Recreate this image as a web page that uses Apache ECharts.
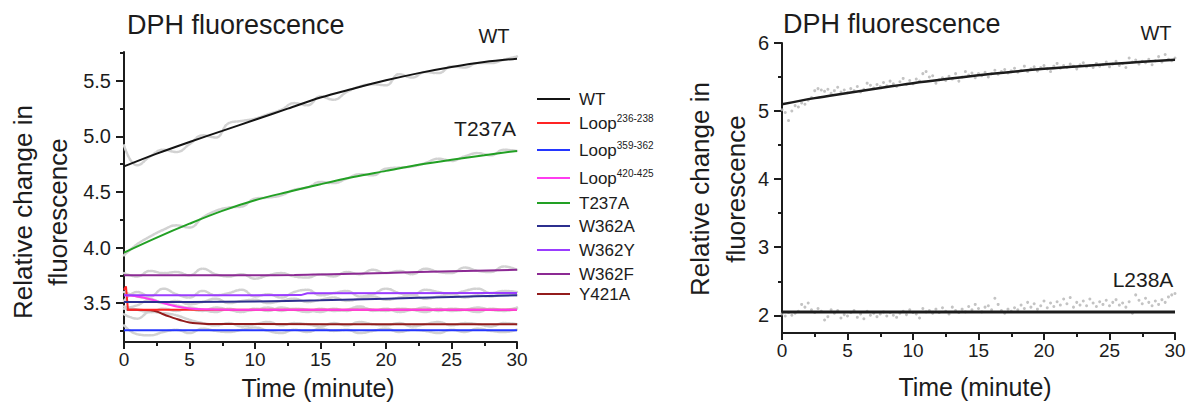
<!DOCTYPE html>
<html>
<head>
<meta charset="utf-8">
<script src="https://cdn.jsdelivr.net/npm/echarts@6/dist/echarts.min.js"></script>
<style>
  html, body { margin: 0; padding: 0; background: #ffffff; }
  #chart { width: 1191px; height: 409px; }
</style>
</head>
<body>
<div id="chart"></div>
<script>
// ---------- Left panel: fitted curves (minutes / relative change) ----------
const fitT = [0, 2.5, 5, 7.5, 10, 12.5, 15, 17.5, 20, 22.5, 25, 27.5, 30];
const wtFit = [4.73, 4.845, 4.95, 5.05, 5.15, 5.25, 5.35, 5.43, 5.505, 5.57, 5.625, 5.67, 5.70];
const t237aFit = [3.955, 4.09, 4.215, 4.33, 4.425, 4.50, 4.57, 4.635, 4.69, 4.745, 4.79, 4.83, 4.87];

const w362fT = [0, 5, 10, 13, 15, 20, 25, 30];
const w362fFit = [3.75, 3.75, 3.751, 3.753, 3.758, 3.772, 3.787, 3.80];

const w362yT = [0, 13.5, 14, 30];
const w362yFit = [3.57, 3.572, 3.588, 3.59];

const w362aT = [0, 5, 10, 15, 20, 25, 30];
const w362aFit = [3.51, 3.51, 3.515, 3.525, 3.54, 3.556, 3.57];

const loop420T = [0, 1, 2, 3, 4, 5, 6, 8, 30];
const loop420Fit = [3.57, 3.56, 3.535, 3.50, 3.47, 3.452, 3.444, 3.44, 3.44];

const loop236T = [0, 0.15, 0.3, 30];
const loop236Fit = [3.62, 3.65, 3.44, 3.44];

const y421aT = [0.2, 1, 2, 2.5, 3, 3.5, 4, 4.5, 5, 5.5, 6.5, 30];
const y421aFit = [3.44, 3.44, 3.435, 3.425, 3.40, 3.378, 3.358, 3.34, 3.326, 3.318, 3.312, 3.31];

const loop359T = [0, 30];
const loop359Fit = [3.255, 3.255];

// ---------- Left panel: measured traces, one reading per minute ----------
const traceT = [0,1,2,3,4,5,6,7,8,9,10,11,12,13,14,15,16,17,18,19,20,21,22,23,24,25,26,27,28,29,30];
const wtTrace = [4.92,4.74,4.82,4.88,4.86,4.93,5.01,4.99,5.12,5.14,5.16,5.20,5.24,5.30,5.28,5.36,5.33,5.40,5.45,5.47,5.46,5.56,5.53,5.58,5.57,5.63,5.62,5.66,5.66,5.69,5.72];
const t237aTrace = [3.93,4.03,4.10,4.16,4.20,4.18,4.27,4.33,4.36,4.37,4.44,4.45,4.47,4.52,4.54,4.59,4.58,4.62,4.66,4.65,4.71,4.72,4.73,4.76,4.80,4.78,4.82,4.85,4.83,4.88,4.87];
const w362fTrace = [3.77,3.74,3.79,3.77,3.78,3.75,3.81,3.76,3.74,3.76,3.72,3.75,3.77,3.74,3.73,3.76,3.74,3.78,3.76,3.80,3.77,3.79,3.76,3.81,3.78,3.77,3.82,3.79,3.78,3.83,3.80];
const w362yTrace = [3.52,3.60,3.56,3.63,3.58,3.55,3.61,3.57,3.59,3.62,3.56,3.58,3.55,3.60,3.62,3.57,3.59,3.61,3.56,3.58,3.63,3.59,3.57,3.62,3.60,3.58,3.61,3.63,3.59,3.61,3.60];
const w362aTrace = [3.45,3.48,3.53,3.50,3.52,3.49,3.51,3.54,3.50,3.52,3.53,3.50,3.52,3.54,3.51,3.53,3.55,3.52,3.54,3.56,3.53,3.55,3.57,3.54,3.56,3.58,3.55,3.57,3.56,3.58,3.57];
const loop420Trace = [3.60,3.56,3.54,3.50,3.48,3.45,3.43,3.46,3.44,3.42,3.45,3.43,3.46,3.44,3.42,3.45,3.43,3.44,3.47,3.43,3.45,3.42,3.44,3.46,3.43,3.45,3.44,3.42,3.45,3.44,3.46];
const loop236Trace = [3.47,3.44,3.42,3.45,3.43,3.46,3.44,3.42,3.45,3.43,3.44,3.46,3.43,3.45,3.44,3.42,3.45,3.43,3.46,3.44,3.43,3.45,3.44,3.42,3.45,3.43,3.44,3.46,3.44,3.43,3.45];
const y421aTrace = [3.40,3.36,3.42,3.41,3.39,3.35,3.32,3.30,3.32,3.29,3.31,3.33,3.30,3.32,3.31,3.29,3.32,3.30,3.33,3.31,3.30,3.32,3.29,3.31,3.33,3.30,3.32,3.31,3.29,3.32,3.31];
const loop359Trace = [3.30,3.22,3.21,3.24,3.26,3.23,3.27,3.25,3.24,3.26,3.28,3.25,3.23,3.26,3.24,3.27,3.25,3.26,3.23,3.25,3.27,3.24,3.26,3.25,3.23,3.26,3.24,3.27,3.25,3.24,3.26];

// ---------- Right panel ----------
const wtRightFit = [5.10, 5.19, 5.265, 5.34, 5.41, 5.47, 5.525, 5.575, 5.62, 5.655, 5.69, 5.725, 5.755];
const l238aT = [0, 30];
const l238aFit = [2.05, 2.05];

// readings every 0.25 min, 0 .. 30
const dotStep = 0.25;
const wtDots = [
  5.02,4.98,4.86,5.00,5.08, 5.06,5.12,5.10,5.16,5.20, 5.30,5.33,5.31,5.29,5.32, 5.26,5.30,5.35,5.28,5.31,
  5.27,5.33,5.30,5.36,5.28, 5.32,5.41,5.38,5.34,5.39, 5.36,5.42,5.37,5.44,5.40, 5.36,5.43,5.48,5.39,5.45,
  5.40,5.47,5.44,5.55,5.58, 5.50,5.52,5.41,5.46,5.49, 5.45,5.51,5.47,5.55,5.44, 5.50,5.58,5.53,5.56,5.49,
  5.55,5.52,5.57,5.50,5.55, 5.60,5.54,5.58,5.61,5.56, 5.59,5.63,5.57,5.60,5.66, 5.58,5.62,5.65,5.59,5.64,
  5.67,5.62,5.58,5.66,5.70, 5.63,5.67,5.64,5.69,5.66, 5.62,5.68,5.71,5.65,5.67, 5.64,5.70,5.66,5.68,5.72,
  5.65,5.69,5.73,5.67,5.70, 5.64,5.78,5.72,5.75,5.69, 5.73,5.71,5.76,5.68,5.74, 5.80,5.72,5.83,5.76,5.74,
  5.78
];
const l238aDots = [
  2.02,1.99,2.04,2.00,2.03, 2.06,2.16,2.12,2.18,2.08, 2.04,2.10,2.06,1.93,1.98, 2.08,2.03,2.07,1.96,2.01,
  1.99,2.04,2.07,1.97,2.02, 1.95,2.06,2.00,2.03,1.98, 2.02,2.05,1.99,2.04,2.00, 1.97,2.03,2.06,2.01,2.08,
  2.04,2.02,1.96,2.10,2.05, 2.07,2.03,2.09,2.04,2.11, 2.06,2.02,2.12,2.07,2.04, 2.09,2.05,2.13,2.08,2.16,
  2.10,2.05,2.12,2.14,2.08, 2.25,2.16,2.07,2.03,2.09, 2.06,2.11,2.08,2.15,2.10, 2.19,2.12,2.17,2.09,2.14,
  2.21,2.11,2.18,2.13,2.20, 2.15,2.24,2.17,2.26,2.12, 2.19,2.15,2.21,2.14,2.24, 2.18,2.13,2.20,2.16,2.22,
  2.14,2.19,2.23,2.15,2.18, 2.12,2.20,2.03,2.30,2.22, 2.17,2.25,2.19,2.14,2.21, 2.16,2.23,2.19,2.27,2.30,
  2.32
];

// ---------- Axis ticks ----------
const xLabels = [0, 5, 10, 15, 20, 25, 30];
const leftYLabels = [3.5, 4.0, 4.5, 5.0, 5.5];
const leftYMinor = [3.25, 3.75, 4.25, 4.75, 5.25, 5.75];
const rightYLabels = [2, 3, 4, 5, 6];
const rightYMinor = [2.5, 3.5, 4.5, 5.5];

// ---------- Legend entries ----------
const legendNames = ['WT', 'Loop236-238', 'Loop359-362', 'Loop420-425', 'T237A', 'W362A', 'W362Y', 'W362F', 'Y421A'];
const legendRows = [99, 123, 150, 178, 203, 226, 250, 274, 294];

const FONT = '"Liberation Sans", Arial, Helvetica, sans-serif';
const INK = '#1c1c1c';

function pairs(t, v) { return t.map((x, i) => [x, v[i]]); }
function dotPairs(v) { return v.map((y, i) => [i * dotStep, y]); }

const colors = {
  'WT': '#141414',
  'Loop236-238': '#ff2424',
  'Loop359-362': '#2436ff',
  'Loop420-425': '#ff3cf0',
  'T237A': '#22a024',
  'W362A': '#2c2f8e',
  'W362Y': '#9a3cff',
  'W362F': '#8c2a94',
  'Y421A': '#931c1c'
};

function xAxisFor(grid) {
  return {
    type: 'value', gridIndex: grid, min: 0, max: 30, interval: 5,
    axisLine: { show: true, onZero: false, lineStyle: { color: INK, width: 2 } },
    axisTick: { show: true, inside: false, length: 7, lineStyle: { color: INK, width: 2 } },
    minorTick: { show: true, splitNumber: 2, length: 4, lineStyle: { color: INK, width: 2 } },
    axisLabel: { customValues: xLabels, margin: 8, fontSize: 19, color: INK, fontFamily: FONT },
    splitLine: { show: false }
  };
}

function yAxisMajor(grid, min, max, labels, fmt) {
  return {
    type: 'value', gridIndex: grid, min: min, max: max, position: 'left',
    axisLine: { show: true, onZero: false, lineStyle: { color: INK, width: 2 } },
    axisTick: { show: true, customValues: labels, length: 8, lineStyle: { color: INK, width: 2 } },
    axisLabel: { customValues: labels, margin: 13, fontSize: 20, color: INK, fontFamily: FONT, formatter: fmt },
    splitLine: { show: false }
  };
}
function yAxisMinor(grid, min, max, ticks) {
  return {
    type: 'value', gridIndex: grid, min: min, max: max, position: 'left', offset: 0,
    axisLine: { show: false },
    axisTick: { show: true, customValues: ticks, length: 4, lineStyle: { color: INK, width: 2 } },
    axisLabel: { show: false },
    splitLine: { show: false }
  };
}

function fitLine(name, data, opts) {
  return Object.assign({
    name: name, type: 'line', xAxisIndex: 0, yAxisIndex: 0, data: data,
    showSymbol: false, smooth: 0.35, z: 5, silent: true,
    lineStyle: { color: colors[name] || INK, width: 2 },
    itemStyle: { color: colors[name] || INK }
  }, opts || {});
}
function trace(name, v) {
  return {
    name: name, type: 'line', xAxisIndex: 0, yAxisIndex: 0, data: pairs(traceT, v),
    showSymbol: false, smooth: 0.45, z: 2, silent: true,
    lineStyle: { color: '#d2d2d2', width: 2.5, type: [2, 1.5], cap: 'round' }
  };
}

const series = [
  trace('WT trace', wtTrace),
  trace('T237A trace', t237aTrace),
  trace('W362F trace', w362fTrace),
  trace('W362Y trace', w362yTrace),
  trace('W362A trace', w362aTrace),
  trace('Loop420-425 trace', loop420Trace),
  trace('Loop236-238 trace', loop236Trace),
  trace('Y421A trace', y421aTrace),
  trace('Loop359-362 trace', loop359Trace),

  fitLine('Loop359-362', pairs(loop359T, loop359Fit), { smooth: false }),
  fitLine('Y421A', pairs(y421aT, y421aFit)),
  fitLine('Loop236-238', pairs(loop236T, loop236Fit), { smooth: false }),
  fitLine('Loop420-425', pairs(loop420T, loop420Fit)),
  fitLine('W362A', pairs(w362aT, w362aFit)),
  fitLine('W362Y', pairs(w362yT, w362yFit), { smooth: false }),
  fitLine('W362F', pairs(w362fT, w362fFit)),
  fitLine('T237A', pairs(fitT, t237aFit)),
  fitLine('WT', pairs(fitT, wtFit)),

  {
    name: 'WT readings', type: 'scatter', xAxisIndex: 1, yAxisIndex: 2, data: dotPairs(wtDots),
    symbolSize: 3, silent: true, z: 2, itemStyle: { color: '#b4b4b4' }
  },
  {
    name: 'L238A readings', type: 'scatter', xAxisIndex: 1, yAxisIndex: 2, data: dotPairs(l238aDots),
    symbolSize: 3, silent: true, z: 2, itemStyle: { color: '#b4b4b4' }
  },
  {
    name: 'WT curve', type: 'line', xAxisIndex: 1, yAxisIndex: 2, data: pairs(fitT, wtRightFit),
    showSymbol: false, smooth: 0.35, z: 5, silent: true, lineStyle: { color: INK, width: 2.5 }
  },
  {
    name: 'L238A curve', type: 'line', xAxisIndex: 1, yAxisIndex: 2, data: pairs(l238aT, l238aFit),
    showSymbol: false, z: 5, silent: true, lineStyle: { color: INK, width: 3 }
  }
];

// one legend block per row so each entry sits on its own baseline
const supText = { 'Loop236-238': '236-238', 'Loop359-362': '359-362', 'Loop420-425': '420-425' };
const legends = legendNames.map((name, i) => ({
  data: [name], left: 537, top: legendRows[i] - 10, padding: 0,
  icon: 'rect', itemWidth: 33, itemHeight: 2, selectedMode: false,
  formatter: n => supText[n] ? '{n|Loop}{s|' + supText[n] + '}' : '{n|' + n + '}',
  textStyle: {
    fontFamily: FONT, color: INK, fontSize: 17, lineHeight: 20, padding: [0, 0, 0, 4],
    rich: {
      n: { fontFamily: FONT, fontSize: 17, lineHeight: 20, color: INK },
      s: { fontFamily: FONT, fontSize: 10, lineHeight: 10, color: INK, verticalAlign: 'top' }
    }
  }
}));

function label(text, x, y, size, opts) {
  return Object.assign({
    type: 'text', x: x, y: y, silent: true,
    style: { text: text, fontFamily: FONT, fontSize: size, fill: INK, align: 'center', verticalAlign: 'middle' }
  }, opts || {});
}
function leftText(text, x, y, size) {
  return {
    type: 'text', x: x, y: y, silent: true,
    style: { text: text, fontFamily: FONT, fontSize: size, fill: INK, align: 'left', verticalAlign: 'middle' }
  };
}

const graphics = [
  leftText('DPH fluorescence', 127, 25, 27),
  leftText('DPH fluorescence', 783, 24, 27),
  label('WT', 494, 36, 20),
  label('T237A', 485, 128, 21),
  label('WT', 1156, 33, 20),
  label('L238A', 1143, 279, 21),
  label('Relative change in', 23, 212, 26, { rotation: Math.PI / 2 }),
  label('fluorescence', 58, 212, 26, { rotation: Math.PI / 2 }),
  label('Relative change in', 700, 189, 26, { rotation: Math.PI / 2 }),
  label('fluorescence', 736, 189, 26, { rotation: Math.PI / 2 }),
  label('Time (minute)', 318, 388, 25),
  label('Time (minute)', 975, 387, 25)
];

const chart = echarts.init(document.getElementById('chart'), null, { renderer: 'svg' });
chart.setOption({
  animation: false,
  backgroundColor: '#ffffff',
  grid: [
    { left: 124, top: 52, width: 393, height: 290 },
    { left: 782, top: 43, width: 393, height: 290 }
  ],
  xAxis: [xAxisFor(0), xAxisFor(1)],
  yAxis: [
    yAxisMajor(0, 3.15, 5.76, leftYLabels, v => v.toFixed(1)),
    yAxisMinor(0, 3.15, 5.76, leftYMinor),
    yAxisMajor(1, 1.74, 6, rightYLabels, v => String(v)),
    yAxisMinor(1, 1.74, 6, rightYMinor)
  ],
  legend: legends,
  series: series,
  graphic: graphics
});
</script>
</body>
</html>
